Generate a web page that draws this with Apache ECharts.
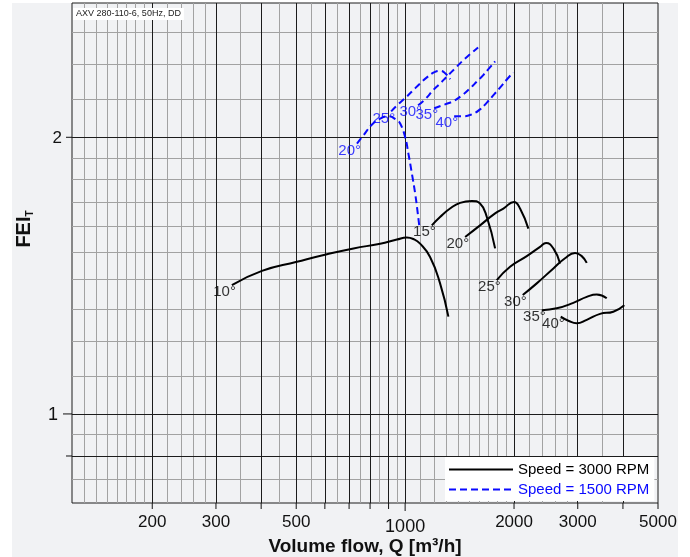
<!DOCTYPE html>
<html>
<head>
<meta charset="utf-8">
<script src="https://cdn.jsdelivr.net/npm/echarts@6/dist/echarts.min.js"></script>
<style>
  html, body { margin: 0; padding: 0; background: #ffffff; }
  #chart { width: 690px; height: 557px; }
</style>
</head>
<body>
<div id="chart"></div>
<script>
// FEI_T against volume flow for the AXV 280-110-6 fan, one curve per blade angle.

// Speed = 3000 RPM
const q3000_10 = [332, 402, 502, 608, 720, 853, 949, 1011, 1054, 1100, 1172, 1249, 1317];
const fei3000_10 = [1.381, 1.431, 1.464, 1.492, 1.514, 1.532, 1.548, 1.556, 1.550, 1.532, 1.482, 1.387, 1.276];
const q3000_15 = [1185, 1249, 1331, 1419, 1529, 1611, 1682, 1773];
const fei3000_15 = [1.604, 1.638, 1.673, 1.697, 1.705, 1.694, 1.638, 1.514];
const q3000_20 = [1465, 1611, 1773, 1869, 2000, 2078, 2191];
const fei3000_20 = [1.558, 1.604, 1.653, 1.673, 1.701, 1.673, 1.591];
const q3000_25 = [1792, 1950, 2169, 2360, 2452, 2569, 2681];
const fei3000_25 = [1.398, 1.446, 1.485, 1.520, 1.535, 1.514, 1.458];
const q3000_30 = [2114, 2311, 2569, 2767, 2949, 3077, 3177];
const fei3000_30 = [1.347, 1.387, 1.440, 1.477, 1.497, 1.485, 1.460];
const q3000_35 = [2386, 2625, 2917, 3177, 3386, 3608];
const fei3000_35 = [1.297, 1.303, 1.321, 1.341, 1.349, 1.336];
const q3000_40 = [2692, 2826, 2980, 3177, 3458, 3762, 4036];
const fei3000_40 = [1.276, 1.263, 1.255, 1.266, 1.285, 1.292, 1.313];

// Speed = 1500 RPM
const q1500_20 = [736, 767, 809, 853, 899, 949, 969, 1000, 1021, 1044, 1066, 1084, 1095];
const fei1500_20 = [1.969, 2.010, 2.064, 2.096, 2.108, 2.087, 2.070, 2.001, 1.920, 1.826, 1.737, 1.652, 1.598];
const q1500_25 = [915, 956, 1006, 1052, 1100, 1158, 1210, 1250, 1290, 1332];
const fei1500_25 = [2.134, 2.172, 2.211, 2.250, 2.289, 2.330, 2.356, 2.362, 2.348, 2.313];
const q1500_30 = [1086, 1136, 1195, 1250, 1306, 1374, 1446, 1522, 1591];
const fei1500_30 = [2.167, 2.200, 2.250, 2.289, 2.330, 2.377, 2.425, 2.468, 2.505];
const q1500_35 = [1203, 1290, 1357, 1437, 1512, 1581, 1642, 1706, 1773];
const fei1500_35 = [2.151, 2.172, 2.189, 2.222, 2.261, 2.301, 2.336, 2.377, 2.419];
const q1500_40 = [1366, 1446, 1531, 1611, 1685, 1762, 1842, 1913, 1988];
const fei1500_40 = [2.108, 2.108, 2.119, 2.145, 2.183, 2.227, 2.272, 2.313, 2.353];

// Axes: tick values, labels and grid lines
const xMin = 120, xMax = 5000;
const yMin = 0.8, yMax = 2.8;
const xTicks = [200, 300, 400, 500, 600, 700, 800, 900, 1000, 2000, 3000, 4000, 5000];
const xTickLabels = [200, 300, 500, 1000, 2000, 3000, 5000];
const xMajorGrid = [200, 300, 400, 500, 600, 700, 800, 900, 1000, 2000, 3000, 4000];
const xMinorGrid = [130, 140, 150, 160, 170, 180, 190, 220, 240, 260, 280, 350, 450,
  550, 650, 750, 850, 950, 1100, 1200, 1300, 1400, 1500, 1600, 1700, 1800, 1900,
  2200, 2400, 2600, 2800, 3500];
const yTicks = [0.9, 1, 2];
const yTickLabels = [1, 2];
const yMajorGrid = [0.9, 1, 2];
const yMinorGrid = [0.85, 0.95, 1.1, 1.2, 1.3, 1.4, 1.5, 1.6, 1.7, 1.8, 1.9, 2.2, 2.4, 2.6];

const NAME_3000 = 'Speed = 3000 RPM';
const NAME_1500 = 'Speed = 1500 RPM';
const BLACK = '#000000';
const BLUE = '#0a0aff';
const FONT = "'Liberation Sans', Arial, sans-serif";

const curves3000 = [
  ['10°', q3000_10, fei3000_10], ['15°', q3000_15, fei3000_15], ['20°', q3000_20, fei3000_20],
  ['25°', q3000_25, fei3000_25], ['30°', q3000_30, fei3000_30], ['35°', q3000_35, fei3000_35],
  ['40°', q3000_40, fei3000_40]
];
const curves1500 = [
  ['20°', q1500_20, fei1500_20], ['25°', q1500_25, fei1500_25], ['30°', q1500_30, fei1500_30],
  ['35°', q1500_35, fei1500_35], ['40°', q1500_40, fei1500_40]
];

const pairs = (q, f) => q.map((v, i) => [v, f[i]]);

function curveSeries(curves, name, color, dashed) {
  return curves.map(([, q, f]) => ({
    type: 'line',
    name: name,
    data: pairs(q, f),
    symbol: 'none',
    smooth: 0.5,
    silent: true,
    animation: false,
    z: 5,
    itemStyle: { color: color },
    lineStyle: { color: color, width: 2, type: dashed ? [7, 4] : 'solid' },
    emphasis: { disabled: true }
  }));
}

function angleLabels(curves, color) {
  return {
    type: 'scatter',
    name: 'angles',
    silent: true,
    animation: false,
    z: 6,
    symbolSize: 1,
    itemStyle: { color: 'rgba(0,0,0,0)' },
    data: curves.map(([a, q, f]) => ({ name: a, value: [q[0], f[0]] })),
    label: {
      show: true,
      formatter: '{b}',
      position: [4.5, 0],
      align: 'right',
      verticalAlign: 'top',
      color: color,
      fontSize: 15,
      fontFamily: FONT
    },
    emphasis: { disabled: true }
  };
}

const majorLine = { color: '#1c1c1c', width: 1, type: 'solid' };
const minorLine = { color: '#a2a2a2', width: 1, type: 'solid' };

const gridSeries = {
  type: 'line',
  name: 'grid',
  data: [],
  silent: true,
  animation: false,
  z: 1,
  markLine: {
    z: 1,
    silent: true,
    animation: false,
    symbol: ['none', 'none'],
    label: { show: false },
    emphasis: { disabled: true },
    data: [
      ...xMinorGrid.map(v => ({ xAxis: v, lineStyle: minorLine })),
      ...yMinorGrid.map(v => ({ yAxis: v, lineStyle: minorLine })),
      ...xMajorGrid.map(v => ({ xAxis: v, lineStyle: majorLine })),
      ...yMajorGrid.map(v => ({ yAxis: v, lineStyle: majorLine }))
    ]
  }
};

const chart = echarts.init(document.getElementById('chart'), null, { renderer: 'canvas' });

chart.setOption({
  backgroundColor: '#ffffff',
  animation: false,
  textStyle: { fontFamily: FONT },
  title: {
    text: 'AXV 280-110-6, 50Hz, DD',
    left: 73, top: 8,
    padding: [1, 3, 1, 3],
    backgroundColor: '#ffffff',
    textStyle: { fontSize: 9, fontWeight: 'normal', color: '#222', fontFamily: FONT, lineHeight: 10 }
  },
  grid: {
    left: 72, right: 32, top: 3, bottom: 54,
    containLabel: false,
    outerBoundsMode: 'none',
    show: true, borderColor: '#1c1c1c', borderWidth: 1,
    backgroundColor: 'transparent'
  },
  legend: {
    orient: 'vertical',
    left: 445, top: 457,
    z: 8,
    backgroundColor: '#ffffff',
    padding: [5, 5, 4, 3],
    itemGap: 5,
    itemWidth: 64,
    itemHeight: 14,
    selectedMode: false,
    itemStyle: { color: 'rgba(0,0,0,0)', borderWidth: 0, opacity: 0 },
    textStyle: { fontSize: 15, fontFamily: FONT },
    data: [
      { name: NAME_3000, textStyle: { color: BLACK } },
      { name: NAME_1500, textStyle: { color: BLUE } }
    ]
  },
  xAxis: {
    type: 'log', logBase: 10, min: xMin, max: xMax,
    name: 'Volume flow, Q [m³/h]',
    nameLocation: 'middle', nameGap: 34,
    nameTextStyle: { fontSize: 19, fontWeight: 'bold', color: '#111', fontFamily: FONT },
    axisLine: { show: false }, axisTick: { show: false },
    axisLabel: { show: false }, splitLine: { show: false }, minorSplitLine: { show: false }
  },
  yAxis: {
    type: 'log', logBase: 10, min: yMin, max: yMax,
    axisLine: { show: false }, axisTick: { show: false },
    axisLabel: { show: false }, splitLine: { show: false }, minorSplitLine: { show: false }
  },
  series: [
    gridSeries,
    ...curveSeries(curves3000, NAME_3000, BLACK, false),
    ...curveSeries(curves1500, NAME_1500, BLUE, true),
    angleLabels(curves3000, BLACK),
    angleLabels(curves1500, BLUE)
  ]
});

// Tick marks, tick labels and the vertical axis title, placed through the axis scales
function axisDecorations() {
  const px = v => chart.convertToPixel({ xAxisIndex: 0 }, v);
  const py = v => chart.convertToPixel({ yAxisIndex: 0 }, v);
  const left = px(xMin), right = px(xMax), top = py(yMax), bottom = py(yMin);
  const els = [];

  els.push({
    type: 'rect', z: -100, silent: true,
    shape: { x: 12, y: top, width: right + 20 - 12, height: 557 - top },
    style: { fill: '#f1f2f4' }
  });

  xTicks.forEach(v => {
    const x = px(v);
    els.push({
      type: 'line', silent: true, z: 10,
      shape: { x1: x, y1: bottom, x2: x, y2: bottom + (v === 1000 ? 8 : 6) },
      style: { stroke: '#111', lineWidth: 1 }
    });
  });
  xTickLabels.forEach(v => {
    const decade = v === 1000;
    els.push({
      type: 'text', silent: true, z: 10,
      x: px(v), y: bottom + (decade ? 24.5 : 19.5),
      style: {
        text: String(v), align: 'center', verticalAlign: 'middle',
        fontSize: decade ? 18 : 17, fontFamily: FONT, fill: '#111'
      }
    });
  });

  yTicks.forEach(v => {
    const y = py(v);
    els.push({
      type: 'line', silent: true, z: 10,
      shape: { x1: left - (v === 1 ? 9 : 6), y1: y, x2: left, y2: y },
      style: { stroke: '#111', lineWidth: 1 }
    });
  });
  yTickLabels.forEach(v => {
    const decade = v === 1;
    els.push({
      type: 'text', silent: true, z: 10,
      x: left - (decade ? 14 : 10), y: py(v) + 1,
      style: {
        text: String(v), align: 'right', verticalAlign: 'middle',
        fontSize: decade ? 18 : 17, fontFamily: FONT, fill: '#111'
      }
    });
  });

  els.push({
    type: 'text', silent: true, z: 10,
    x: 24, y: 229, rotation: Math.PI / 2,
    style: {
      text: '{f|FEI}{s|T}', align: 'center', verticalAlign: 'middle',
      fontFamily: FONT, fill: '#111',
      rich: {
        f: { fontSize: 20, fontWeight: 'bold', fontFamily: FONT, lineHeight: 22 },
        s: { fontSize: 10, fontWeight: 'bold', fontFamily: FONT, verticalAlign: 'bottom', lineHeight: 22, padding: [6, 0, 0, 0] }
      }
    }
  });

  chart.setOption({ graphic: { elements: els } });
}

axisDecorations();
</script>
</body>
</html>
